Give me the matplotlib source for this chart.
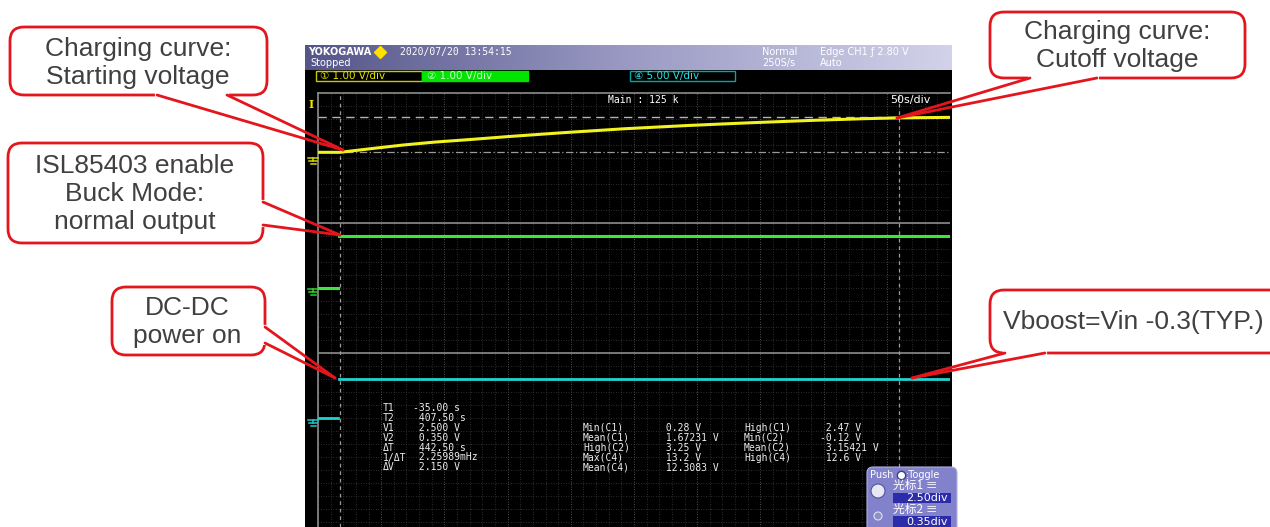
import numpy as np
import matplotlib.pyplot as plt
from matplotlib.patches import FancyBboxPatch, Rectangle, Circle

W, H = 1270, 527

# CH1 (yellow) charging curve, time in s, volts
ch1_t = [-52.5, -35.0, -10.0, 15.0, 40.0, 65.0, 100.0, 140.0, 190.0, 240.0, 290.0, 340.0, 380.0, 407.5, 447.5]
ch1_v = [0.35, 0.35, 0.58, 0.80, 0.98, 1.12, 1.33, 1.55, 1.80, 2.00, 2.17, 2.32, 2.42, 2.47, 2.50]
# CH2 (green) buck output: off before enable, on after
ch2_off_t = [-52.5, -36.5]
ch2_off_v = [0.0, 0.0]
ch2_on_t = [-35.5, 447.5]
ch2_on_v = [3.2, 3.2]
# CH4 (cyan) boost output
ch4_off_t = [-52.5, -36.5]
ch4_off_v = [0.0, 0.0]
ch4_on_t = [-35.5, 447.5]
ch4_on_v = [12.1, 12.1]

# cursors
cur_t = [-35.0, 407.5]
cur_v = [2.5, 0.35]

vdiv = {1: 1.0, 2: 1.0, 4: 5.0}
gnd = {1: -4.0, 2: -12.0, 4: -20.0}

meas_left = ['T1', 'T2', 'V1', 'V2', 'ΔT', '1/ΔT', 'ΔV']
meas_left_val = ['-35.00 s', ' 407.50 s', ' 2.500 V', ' 0.350 V', ' 442.50 s', ' 2.25989mHz', ' 2.150 V']
meas_mid = ['Min(C1)', 'Mean(C1)', 'High(C2)', 'Max(C4)', 'Mean(C4)']
meas_mid_val = [' 0.28 V', ' 1.67231 V', ' 3.25 V', ' 13.2 V', ' 12.3083 V']
meas_right = ['High(C1)', 'Min(C2)', 'Mean(C2)', 'High(C4)']
meas_right_val = [' 2.47 V', '-0.12 V', ' 3.15421 V', ' 12.6 V']

red = '#e3161e'
txtgray = '#404040'
mono = 'DejaVu Sans Mono'


def to_div(v, ch):
    return gnd[ch] + np.asarray(v) / vdiv[ch]


fig = plt.figure(figsize=(W / 100, H / 100), dpi=100)
fig.patch.set_facecolor('white')

bg = fig.add_axes([0, 0, 1, 1], zorder=0)
bg.set_xlim(0, W)
bg.set_ylim(H, 0)
bg.axis('off')

# scope screen background
bg.add_patch(Rectangle((305, 45), 647, H - 45, fc='black', ec='none'))
grad = np.linspace(0, 1, 256).reshape(1, -1)
bg.imshow(grad, extent=(305, 952, 70, 45), cmap=plt.matplotlib.colors.LinearSegmentedColormap.from_list(
    'hdr', ['#55558a', '#9a9ac4', '#d2d2ea']), aspect='auto', zorder=1)

# scope grid axes (time in s, vertical in divisions)
sx0, sy0 = 318, 93
sc = fig.add_axes([sx0 / W, 0, (950 - sx0) / W, (H - sy0) / H], zorder=1)
sc.set_facecolor('none')
sc.set_xlim(-52.5, 447.5)
sc.set_ylim(-(H - sy0) / 16.25, 0)
sc.set_xticks([])
sc.set_yticks([])
for s in ['right', 'bottom']:
    sc.spines[s].set_visible(False)
for s in ['left', 'top']:
    sc.spines[s].set_color('#8c8c8c')
    sc.spines[s].set_linewidth(1.2)

for t in np.arange(-52.5, 447.6, 10):
    major = abs((t + 52.5) % 50) < 1e-6
    sc.axvline(t, color='#6a6a6a' if major else '#3c3c3c', lw=0.6, ls=(0, (1, 2)), zorder=1)
for y in np.arange(0, -27, -0.8):
    sc.axhline(y, color='#3c3c3c', lw=0.6, ls=(0, (1, 2)), zorder=1)
for y in [-8, -16]:
    sc.axhline(y, color='#8c8c8c', lw=1.2, zorder=2)

# cursors
for t in cur_t:
    sc.axvline(t, color='#9a9a9a', lw=0.9, ls=(0, (3, 3)), zorder=2)
sc.axhline(to_div(cur_v[0], 1), color='#b4b4b4', lw=1.0, ls=(0, (6, 4)), zorder=2)
sc.axhline(to_div(cur_v[1], 1), color='#9a9a9a', lw=0.9, ls=(0, (6, 2, 1, 2)), zorder=2)

# traces
sc.plot(ch1_t, to_div(ch1_v, 1), color='#f2f21e', lw=2.2, zorder=4)
sc.plot(ch2_off_t, to_div(ch2_off_v, 2), color='#3ce63c', lw=2.2, zorder=4)
sc.plot(ch2_on_t, to_div(ch2_on_v, 2), color='#3ce63c', lw=2.2, zorder=4)
sc.plot(ch4_off_t, to_div(ch4_off_v, 4), color='#22d2d2', lw=2.0, zorder=4)
sc.plot(ch4_on_t, to_div(ch4_on_v, 4), color='#22d2d2', lw=2.0, zorder=4)

ov = fig.add_axes([0, 0, 1, 1], zorder=3)
ov.set_xlim(0, W)
ov.set_ylim(H, 0)
ov.axis('off')
ov.patch.set_alpha(0)

# header
ov.text(308, 52, 'YOKOGAWA', color='white', fontsize=7, fontweight='bold', va='center')
ov.plot(380, 52, marker='D', ms=6, color='#ffe000')
ov.text(400, 52, '2020/07/20 13:54:15', color='white', fontsize=7, family=mono, va='center')
ov.text(310, 63, 'Stopped', color='white', fontsize=7, va='center')
ov.text(762, 52, 'Normal', color='white', fontsize=7, va='center')
ov.text(762, 63, '250S/s', color='white', fontsize=7, va='center')
ov.text(820, 52, 'Edge CH1 ƒ 2.80 V', color='white', fontsize=7, va='center')
ov.text(820, 63, 'Auto', color='white', fontsize=7, va='center')

# channel boxes
ov.add_patch(Rectangle((316, 71), 106, 10, fc='black', ec='#c8c800', lw=1))
ov.text(320, 76, '① 1.00 V/div', color='#e6e600', fontsize=7.5, va='center')
ov.add_patch(Rectangle((422, 71), 106, 10, fc='#00e400', ec='#00e400', lw=1))
ov.text(427, 76, '② 1.00 V/div', color='#c8ffc8', fontsize=7.5, va='center')
ov.add_patch(Rectangle((630, 71), 105, 10, fc='black', ec='#00a8a8', lw=1))
ov.text(634, 76, '④ 5.00 V/div', color='#30e0e0', fontsize=7.5, va='center')

ov.text(608, 100, 'Main : 125 k', color='white', fontsize=7, family=mono, va='center')
ov.text(890, 100, '50s/div', color='white', fontsize=8, va='center')

# trigger level and ground marks in the left strip
ov.text(309, 104, 'I', color='#e6e600', fontsize=8, fontweight='bold', family='DejaVu Serif', va='center')
for gy, gc in [(158, '#d8d800'), (289, '#30d030'), (420, '#20c8c8')]:
    ov.plot([308, 318], [gy, gy], color=gc, lw=1.1)
    ov.plot([313, 313], [gy, gy + 3], color=gc, lw=1.1)
    ov.plot([309, 317], [gy + 3, gy + 3], color=gc, lw=1.1)
    ov.plot([310.5, 315.5], [gy + 5.5, gy + 5.5], color=gc, lw=1.1)

# measurements
for i in range(len(meas_left)):
    y = 408 + i * 9.9
    ov.text(383, y, meas_left[i], color='#eeeeee', fontsize=7, family=mono, va='center')
    ov.text(413, y, meas_left_val[i], color='#eeeeee', fontsize=7, family=mono, va='center')
for i in range(len(meas_mid)):
    y = 428 + i * 9.9
    ov.text(583, y, meas_mid[i], color='#eeeeee', fontsize=7, family=mono, va='center')
    ov.text(660, y, meas_mid_val[i], color='#eeeeee', fontsize=7, family=mono, va='center')
for i in range(len(meas_right)):
    y = 428 + i * 9.9
    ov.text(744, y, meas_right[i], color='#eeeeee', fontsize=7, family=mono, va='center')
    ov.text(820, y, meas_right_val[i], color='#eeeeee', fontsize=7, family=mono, va='center')

# bottom right knob panel
ov.add_patch(FancyBboxPatch((867, 467), 90, 70, boxstyle='round,pad=0,rounding_size=6',
                            fc='#8282cc', ec='#b0b0e0', lw=0.8))
cjk = ['Noto Sans CJK SC', 'DejaVu Sans']
ov.text(870, 475, 'Push', color='white', fontsize=7, va='center')
ov.plot(901, 475, marker='o', ms=6, mfc='white', mec='#404080')
ov.text(906, 475, ':Toggle', color='white', fontsize=7, va='center')
ov.add_patch(Circle((878, 491), 7, fc='#e8e8f4', ec='#5050a0', lw=0.8))
ov.add_patch(Circle((878, 516), 4, fc='#9090c8', ec='#e0e0f0', lw=0.8))
ov.text(893, 485, '光标1 ≡', color='white', fontsize=8.5, family=cjk, va='center')
ov.add_patch(Rectangle((893, 493), 58, 10, fc='#2c2caa', ec='none'))
ov.text(948, 498, '2.50div', color='white', fontsize=8, ha='right', va='center')
ov.text(893, 509, '光标2 ≡', color='white', fontsize=8.5, family=cjk, va='center')
ov.add_patch(Rectangle((893, 516), 58, 11, fc='#2c2caa', ec='none'))
ov.text(948, 522, '0.35div', color='white', fontsize=8, ha='right', va='center')


# callouts
def callout(box, text, center, base, tip, ha='center'):
    x0, y0, x1, y1 = box
    ov.add_patch(FancyBboxPatch((x0, y0), x1 - x0, y1 - y0, boxstyle='round,pad=0,rounding_size=14',
                                fc='white', ec=red, lw=2, zorder=5))
    ov.plot([base[0][0], base[1][0]], [base[0][1], base[1][1]], color='white', lw=3, zorder=6)
    for bx, by in base:
        ov.plot([bx, tip[0]], [by, tip[1]], color=red, lw=2, zorder=7, solid_capstyle='round')
    ov.text(center[0], center[1], text, ha=ha, va='center', fontsize=19, color=txtgray,
            family='Liberation Sans', linespacing=1.2, zorder=8)


callout((10, 27, 267, 95), 'Charging curve:\nStarting voltage', (138, 63),
        [(157, 95), (227, 95)], (343, 150))
callout((8, 143, 263, 243), 'ISL85403 enable\nBuck Mode:\nnormal output', (135, 194),
        [(263, 202), (263, 225)], (340, 235))
callout((112, 287, 265, 355), 'DC-DC\npower on', (187, 322),
        [(265, 327), (265, 343)], (335, 378))
callout((990, 12, 1245, 78), 'Charging curve:\nCutoff voltage', (1117, 46),
        [(1030, 78), (1097, 78)], (897, 118))
callout((990, 290, 1300, 353), 'Vboost=Vin -0.3(TYP.)', (1003, 322),
        [(1005, 353), (1045, 353)], (912, 378), ha='left')

fig.savefig('out.png', dpi=100, facecolor='white')
